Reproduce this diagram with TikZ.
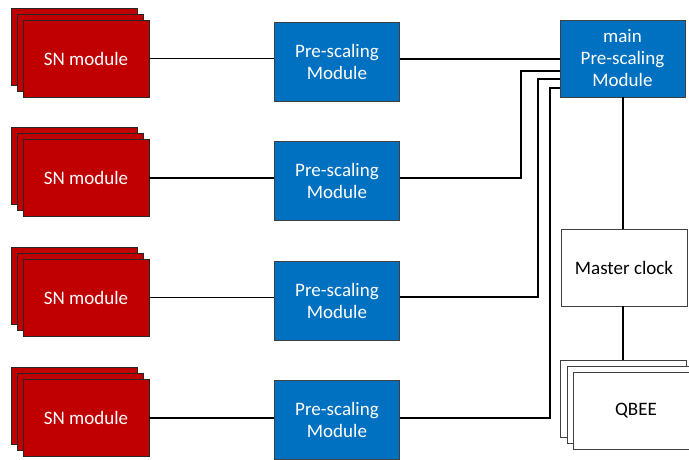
\documentclass[tikz,border=0pt]{standalone}
\usepackage{fontspec}
\setmainfont{Carlito}
\begin{document}
\begin{tikzpicture}[x=1pt,y=-1pt,
  sn/.style={draw=black!85,line width=0.9pt,fill={rgb,255:red,192;green,0;blue,0},minimum width=126pt,minimum height=77pt,inner sep=0pt,text=white,font=\fontsize{19}{22}\selectfont},
  ps/.style={draw=black!75,line width=0.9pt,fill={rgb,255:red,0;green,112;blue,192},minimum width=125pt,minimum height=79pt,inner sep=0pt,text=white,align=center,font=\fontsize{19}{22}\selectfont},
  wb/.style={draw=black!75,line width=0.9pt,fill=white,minimum width=126pt,minimum height=77pt,inner sep=0pt,align=center,font=\fontsize{19}{22}\selectfont},
  wire/.style={line width=1.2pt,black}]
\useasboundingbox (0,0) rectangle (689,460);
% SN stacks
\foreach \i/\y in {1/58.5,2/178,3/297.5,4/418}{
  \node[sn] (snb\i) at (74,\y-12) {};
  \node[sn] (snm\i) at (80,\y-6) {};
  \node[sn] (sn\i) at (86,\y) {SN module};
}
% Pre-scaling
\foreach \i/\y in {1/61.5,2/181,3/300.5,4/420}{
  \node[ps] (ps\i) at (337,\y) {Pre-scaling\\Module};
}
\node[ps,minimum width=125pt,minimum height=77pt] (main) at (622.5,58.5) {main\\Pre-scaling\\Module};
\node[wb] (clk) at (624,267.5) {Master clock};
\node[wb] (qb) at (623,399) {};
\node[wb] (qm) at (630,405) {};
\node[wb] (q) at (636,411) {QBEE};
\begin{scope}[wire]
\foreach \i in {1,2,3,4}{
  \draw (sn\i.east) -- (sn\i.east -| ps\i.west);
}
\coordinate (r1) at (400,59);
\draw (ps1.east |- r1) -- (main.west |- r1);
\coordinate (c2) at (521,178);
\coordinate (c3) at (538,297);
\coordinate (c4) at (550,418);
\coordinate (e2) at (560,71);
\coordinate (e3) at (560,79);
\coordinate (e4) at (560,88);
\draw (ps2.east |- c2) -- (c2) -- (c2 |- e2) -- (main.west |- e2);
\draw (ps3.east |- c3) -- (c3) -- (c3 |- e3) -- (main.west |- e3);
\draw (ps4.east |- c4) -- (c4) -- (c4 |- e4) -- (main.west |- e4);
\coordinate (vx) at (623,0);
\draw (main.south -| vx) -- (clk.north -| vx);
\draw (clk.south -| vx) -- (qb.north -| vx);
\end{scope}
\end{tikzpicture}
\end{document}
